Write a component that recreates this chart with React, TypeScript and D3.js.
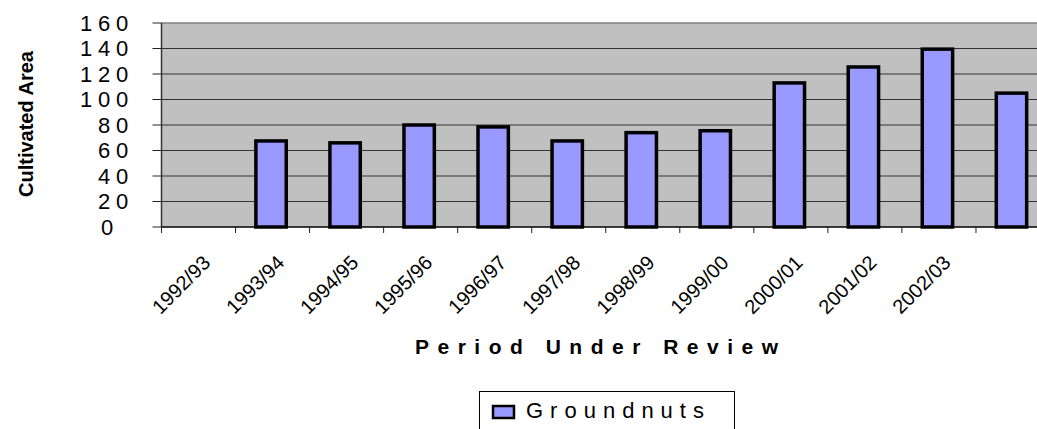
import * as d3 from "d3";
import React from "react";

// 期間ラベル（最後の列はラベルなし）
const periods = [
  "1992/93", "1993/94", "1994/95", "1995/96", "1996/97", "1997/98",
  "1998/99", "1999/00", "2000/01", "2001/02", "2002/03", "",
];
// 落花生の作付面積
const groundnuts = [0, 67.5, 66, 80, 78.5, 67.5, 74, 75.5, 113, 125.5, 139.5, 105];
const yTicks = [0, 20, 40, 60, 80, 100, 120, 140, 160];

const W = 1037;
const H = 429;
const left = 161.5;
const top = 23;
const bottom = 227;
const right = 1050; // plot runs past the picture edge

export default function App() {
  const keys = periods.map((_, i) => String(i));
  const x = d3.scaleBand().domain(keys).range([left, right]).padding(0);
  const y = d3.scaleLinear().domain([0, 160]).range([bottom, top]);
  const barW = x.bandwidth() * 0.41;

  return (
    <svg
      width={W}
      height={H}
      style={{ position: "absolute", left: 0, top: 0, fontFamily: "Arial, 'Liberation Sans', sans-serif" }}
    >
      {/* プロット領域 */}
      <rect x={left} y={top} width={right - left} height={bottom - top} fill="#c0c0c0" />
      <line x1={left} y1={top} x2={right} y2={top} stroke="#808080" strokeWidth={1.5} />

      {/* 目盛り線 */}
      {yTicks.map((t) => (
        <g key={t}>
          {t !== 0 && t !== 160 && (
            <line x1={left} x2={right} y1={y(t)} y2={y(t)} stroke="#333" strokeWidth={1.2} />
          )}
          <line x1={left - 9} x2={left} y1={y(t)} y2={y(t)} stroke="#222" strokeWidth={1} />
          <text
            x={t === 0 ? 119 : 134}
            y={y(t)}
            dy="0.36em"
            textAnchor="end"
            fontSize={22}
            letterSpacing={5.8}
            fill="#000"
          >
            {t}
          </text>
        </g>
      ))}

      {/* 棒 */}
      {groundnuts.map((v, i) =>
        v > 0 ? (
          <rect
            key={i}
            x={x(keys[i])! + x.bandwidth() / 2 - barW / 2 - 1.5}
            y={y(v)}
            width={barW}
            height={y(0) - y(v)}
            fill="#9999ff"
            stroke="#000"
            strokeWidth={3.5}
          />
        ) : null
      )}

      {/* 軸 */}
      <line x1={left} y1={top} x2={left} y2={bottom} stroke="#333" strokeWidth={1.5} />
      <line x1={left} y1={bottom} x2={right} y2={bottom} stroke="#000" strokeWidth={1.5} />
      {keys.map((k) => (
        <line key={k} x1={x(k)!} x2={x(k)!} y1={bottom} y2={bottom + 6} stroke="#222" strokeWidth={1} />
      ))}

      {/* x ラベル */}
      {periods.map((p, i) => {
        const cx = x(keys[i])! + x.bandwidth() / 2 + 13;
        const cy = 264;
        return (
          <text
            key={i}
            x={cx}
            y={cy}
            textAnchor="end"
            fontSize={20}
            transform={`rotate(-45, ${cx}, ${cy})`}
          >
            {p}
          </text>
        );
      })}

      {/* 軸タイトル */}
      <text
        transform="translate(33, 124) rotate(-90)"
        textAnchor="middle"
        fontSize={20}
        fontWeight="bold"
      >
        Cultivated Area
      </text>
      <text x={415} y={354} fontSize={21} fontWeight="bold" letterSpacing={8.5}>
        Period Under Review
      </text>

      {/* 凡例 */}
      <rect x={479.5} y={391.5} width={255} height={40} fill="#fff" stroke="#000" strokeWidth={1} />
      <rect x={493} y={406} width={21} height={12} fill="#9999ff" stroke="#000" strokeWidth={2.5} />
      <text x={526} y={418} fontSize={22} letterSpacing={7}>
        Groundnuts
      </text>
    </svg>
  );
}
